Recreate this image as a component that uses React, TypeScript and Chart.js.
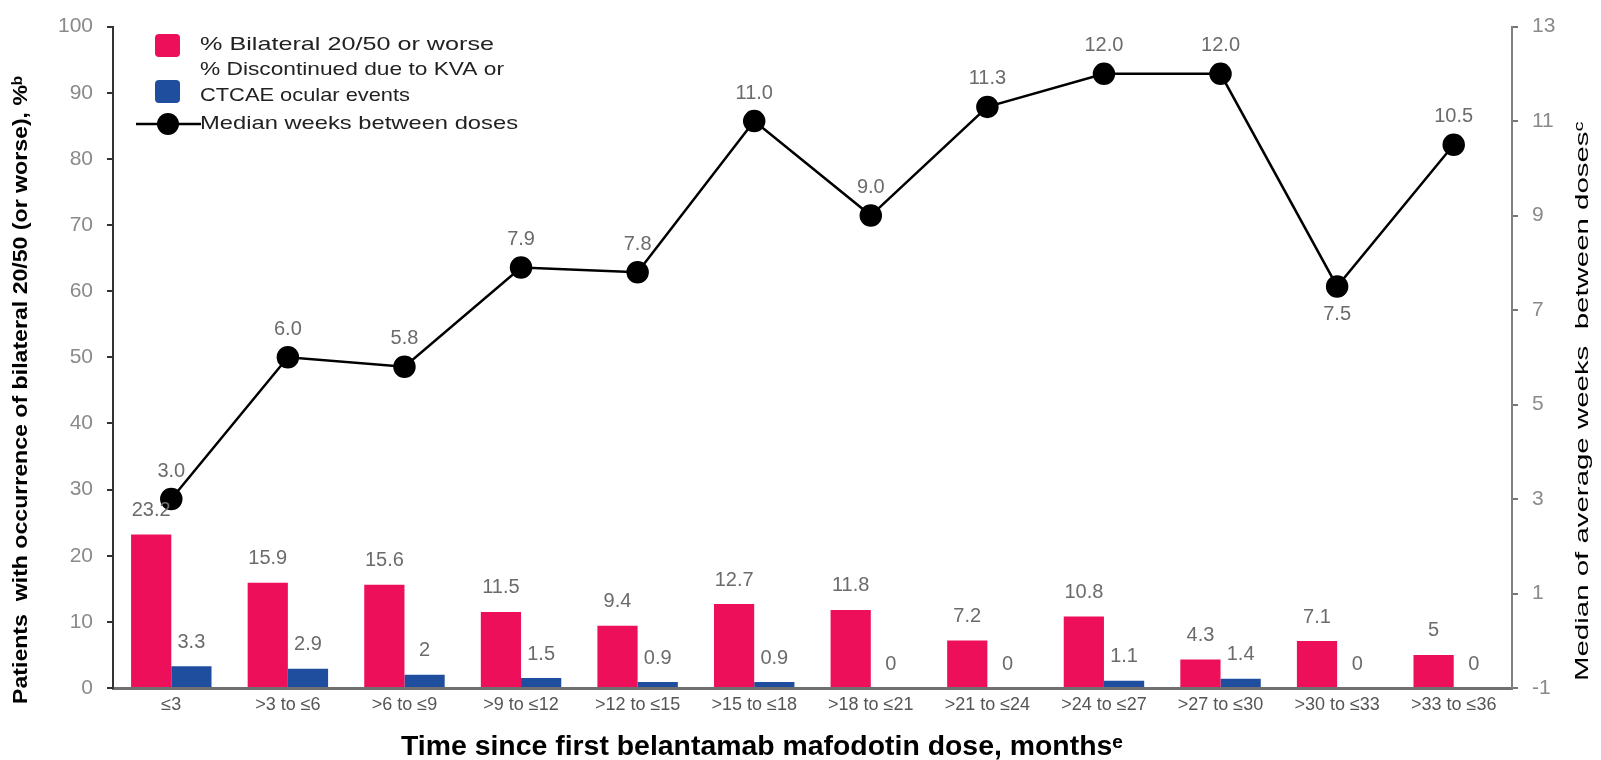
import React, { useEffect, useRef } from "react";
import { Chart, registerables } from "chart.js";

Chart.register(...registerables);

const categories = [
  "≤3", ">3 to ≤6", ">6 to ≤9", ">9 to ≤12", ">12 to ≤15", ">15 to ≤18",
  ">18 to ≤21", ">21 to ≤24", ">24 to ≤27", ">27 to ≤30", ">30 to ≤33", ">33 to ≤36",
];
const bilateralPct = [23.2, 15.9, 15.6, 11.5, 9.4, 12.7, 11.8, 7.2, 10.8, 4.3, 7.1, 5];
const discontinuedPct = [3.3, 2.9, 2, 1.5, 0.9, 0.9, 0, 0, 1.1, 1.4, 0, 0];
const medianWeeks = [3.0, 6.0, 5.8, 7.9, 7.8, 11.0, 9.0, 11.3, 12.0, 12.0, 7.5, 10.5];
const lineLabelBelow = [10];

const seriesNames = [
  "% Bilateral 20/50 or worse",
  ["% Discontinued due to KVA or", "CTCAE ocular events"],
  "Median weeks between doses",
];
const xTitle = "Time since first belantamab mafodotin dose, monthsᵉ";
const yLeftTitle = "Patients  with occurrence of bilateral 20/50 (or worse), %ᵇ";
const yRightTitle = "Median of average weeks  between dosesᶜ";

const PINK = "#EE0F5A";
const BLUE = "#1F4E9E";
const FONT = "'Liberation Sans', Arial, sans-serif";

const W = 1601;
const H = 760;
const AREA = { left: 113, right: 1512, top: 25, bottom: 688 };

function drawFit(ctx: CanvasRenderingContext2D, text: string, x: number, y: number, font: string, width: number, align: "left" | "center") {
  ctx.save();
  ctx.font = font;
  const w = ctx.measureText(text).width;
  const s = width / w;
  ctx.translate(x, y);
  ctx.scale(s, 1);
  ctx.textAlign = align;
  ctx.fillText(text, 0, 0);
  ctx.restore();
}

export default function App() {
  const ref = useRef<HTMLCanvasElement | null>(null);

  useEffect(() => {
    const canvas = ref.current;
    if (!canvas) return;

    const labelsPlugin = {
      id: "customDraw",
      afterDatasetsDraw(chart: any) {
        const ctx = chart.ctx;
        ctx.save();
        ctx.fillStyle = "#6b6b6b";
        ctx.font = `20px ${FONT}`;
        ctx.textAlign = "center";
        ctx.textBaseline = "middle";
        chart.data.datasets.forEach((ds: any, di: number) => {
          const meta = chart.getDatasetMeta(di);
          meta.data.forEach((el: any, i: number) => {
            const v = ds.data[i];
            if (ds.type === "line") {
              const below = lineLabelBelow.includes(i);
              ctx.fillText(v.toFixed(1), el.x, el.y + (below ? 28 : -28));
            } else {
              ctx.fillText(String(v), el.x, el.y - 24);
            }
          });
        });
        ctx.restore();
      },
      afterDraw(chart: any) {
        const ctx = chart.ctx;
        ctx.save();
        // legend
        const lx = 155;
        ctx.fillStyle = PINK;
        ctx.beginPath();
        (ctx as any).roundRect(lx, 34, 25, 23, 4);
        ctx.fill();
        ctx.fillStyle = BLUE;
        ctx.beginPath();
        (ctx as any).roundRect(lx, 80, 25, 23, 4);
        ctx.fill();
        ctx.strokeStyle = "#000";
        ctx.lineWidth = 2.5;
        ctx.beginPath();
        ctx.moveTo(136, 124);
        ctx.lineTo(201, 124);
        ctx.stroke();
        ctx.fillStyle = "#000";
        ctx.beginPath();
        ctx.arc(168, 124, 11, 0, Math.PI * 2);
        ctx.fill();

        ctx.fillStyle = "#222";
        ctx.textBaseline = "middle";
        const lf = `19px ${FONT}`;
        const n1 = seriesNames[1] as string[];
        drawFit(ctx, seriesNames[0] as string, 200, 45, lf, 294, "left");
        drawFit(ctx, n1[0], 200, 70, lf, 304, "left");
        drawFit(ctx, n1[1], 200, 96, lf, 210, "left");
        drawFit(ctx, seriesNames[2] as string, 200, 124, lf, 318, "left");

        // axis titles
        ctx.fillStyle = "#000";
        ctx.textBaseline = "alphabetic";
        drawFit(ctx, xTitle, 762, 755, `bold 27px ${FONT}`, 722, "center");

        ctx.textBaseline = "middle";
        ctx.save();
        ctx.translate(21, 390);
        ctx.rotate(-Math.PI / 2);
        drawFit(ctx, yLeftTitle, 0, 0, `bold 20px ${FONT}`, 628, "center");
        ctx.restore();

        ctx.save();
        ctx.translate(1583, 401);
        ctx.rotate(-Math.PI / 2);
        drawFit(ctx, yRightTitle, 0, 0, `19px ${FONT}`, 560, "center");
        ctx.restore();

        ctx.restore();
      },
    };

    const chart = new Chart(canvas, {
      type: "bar",
      data: {
        labels: categories,
        datasets: [
          {
            type: "line",
            label: seriesNames[2] as string,
            data: medianWeeks,
            yAxisID: "y2",
            borderColor: "#000",
            backgroundColor: "#000",
            borderWidth: 2.5,
            pointRadius: 10,
            pointHoverRadius: 10,
            pointBackgroundColor: "#000",
            pointBorderColor: "#000",
            tension: 0,
            order: 0,
          } as any,
          {
            type: "bar",
            label: seriesNames[0] as string,
            data: bilateralPct,
            yAxisID: "y",
            backgroundColor: PINK,
            categoryPercentage: 0.69,
            barPercentage: 1.0,
            order: 1,
          },
          {
            type: "bar",
            label: "% Discontinued due to KVA or CTCAE ocular events",
            data: discontinuedPct,
            yAxisID: "y",
            backgroundColor: BLUE,
            categoryPercentage: 0.69,
            barPercentage: 1.0,
            order: 1,
          },
        ],
      },
      options: {
        responsive: false,
        animation: false,
        devicePixelRatio: 1,
        layout: { padding: { top: AREA.top, left: 0, right: 0, bottom: 0 } },
        plugins: {
          legend: { display: false },
          tooltip: { enabled: false },
        },
        scales: {
          x: {
            grid: { display: false },
            border: { display: true, color: "#707070", width: 3 },
            ticks: {
              color: "#555",
              font: { family: FONT, size: 18 },
              padding: -2,
              maxRotation: 0,
              autoSkip: false,
            },
            afterFit(scale: any) {
              scale.height = H - AREA.bottom;
            },
          },
          y: {
            position: "left",
            min: 0,
            max: 100,
            ticks: {
              stepSize: 10,
              color: "#8a8a8a",
              font: { family: FONT, size: 21 },
              padding: 14,
            },
            grid: {
              drawOnChartArea: false,
              drawTicks: true,
              tickLength: 6,
              color: "#333",
              lineWidth: 2,
            },
            border: { display: true, color: "#333", width: 2 },
            afterFit(scale: any) {
              scale.width = AREA.left;
            },
          },
          y2: {
            position: "right",
            min: -1,
            max: 13,
            ticks: {
              stepSize: 2,
              color: "#8a8a8a",
              font: { family: FONT, size: 21 },
              padding: 14,
            },
            grid: {
              drawOnChartArea: false,
              drawTicks: true,
              tickLength: 6,
              color: "#777",
              lineWidth: 2,
            },
            border: { display: true, color: "#808080", width: 2 },
            afterFit(scale: any) {
              scale.width = W - AREA.right;
            },
          },
        },
      },
      plugins: [labelsPlugin],
    });

    return () => chart.destroy();
  }, []);

  return (
    <div style={{ position: "fixed", left: 0, top: 0, width: W, height: H, background: "#fff" }}>
      <canvas ref={ref} width={W} height={H} style={{ width: W, height: H }} />
    </div>
  );
}
